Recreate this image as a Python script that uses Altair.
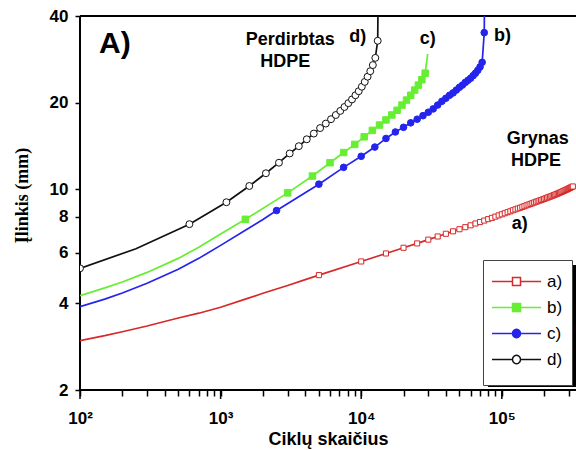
import altair as alt
import pandas as pd

# ---------------- data ----------------
series_names = ["a)", "b)", "c)", "d)"]
series_colors = ["#d62a2a", "#66ee33", "#2424ee", "#111111"]

# a) red, open squares (line-only points, then marker points)
a_line_cycles = [100, 150, 200, 300, 500, 700, 1000, 1500, 2000, 3000, 4000]
a_line_defl = [2.97, 3.09, 3.19, 3.34, 3.56, 3.70, 3.88, 4.14, 4.34, 4.62, 4.84]
a_mark_cycles = [5000, 10000, 15000, 20000, 25000, 30000, 35000, 40000, 45000, 50000,
                 55000, 60000, 65000, 70000, 75000, 80000, 85000, 90000, 95000, 100000,
                 105000, 110000, 115000, 120000, 125000, 130000, 135000, 140000, 145000, 150000,
                 155000, 160000, 165000, 170000, 175000, 180000, 185000, 190000, 195000, 200000,
                 205000, 210000, 215000, 220000, 225000, 230000, 235000, 240000, 245000, 250000,
                 255000, 260000, 265000, 270000, 275000, 280000, 285000, 290000, 295000, 300000,
                 305000, 310000, 315000, 320000]
a_mark_defl = [5.02, 5.60, 5.97, 6.25, 6.47, 6.67, 6.84, 6.99, 7.13, 7.25,
               7.37, 7.48, 7.59, 7.68, 7.77, 7.86, 7.94, 8.02, 8.10, 8.17,
               8.24, 8.31, 8.37, 8.44, 8.50, 8.56, 8.61, 8.67, 8.72, 8.78,
               8.83, 8.88, 8.93, 8.98, 9.03, 9.07, 9.12, 9.16, 9.20, 9.24,
               9.29, 9.33, 9.37, 9.41, 9.45, 9.49, 9.53, 9.57, 9.61, 9.65,
               9.69, 9.73, 9.77, 9.81, 9.85, 9.89, 9.93, 9.97, 10.01, 10.05,
               10.09, 10.13, 10.17, 10.21]

# b) green, filled squares
b_line_cycles = [100, 150, 200, 300, 500, 700, 1000, 29700]
b_line_defl = [4.26, 4.53, 4.75, 5.13, 5.74, 6.27, 6.98, 29.5]
b_mark_cycles = [1500, 3000, 4500, 6000, 7500, 9000, 10500, 12000, 13500, 15000,
                 16500, 18000, 19500, 21000, 22500, 24000, 25500, 27000, 28500]
b_mark_defl = [7.85, 9.7, 11.1, 12.35, 13.4, 14.3, 15.2, 16.0, 16.7, 17.4,
               18.1, 18.8, 19.6, 20.4, 21.2, 22.1, 23.0, 24.0, 25.3]

# c) blue, filled circles
c_line_cycles = [100, 150, 200, 300, 500, 700, 1000, 1500, 2000, 75600]
c_line_defl = [3.90, 4.14, 4.35, 4.70, 5.26, 5.74, 6.37, 7.19, 7.84, 60.0]
c_mark_cycles = [2500, 5000, 7500, 10000, 12500, 15000, 17500, 20000, 22500, 25000,
                 27500, 30000, 32500, 35000, 37500, 40000, 42500, 45000, 47500, 50000,
                 52500, 55000, 57500, 60000, 62500, 65000, 67500, 70000, 72500, 75000]
c_mark_defl = [8.42, 10.4, 11.9, 13.0, 14.0, 15.0, 15.8, 16.4, 17.0, 17.5,
               18.0, 18.5, 19.0, 19.6, 20.2, 20.7, 21.2, 21.6, 22.1, 22.6,
               23.0, 23.5, 23.9, 24.3, 24.8, 25.3, 25.9, 26.6, 27.6, 35.0]

# d) black, open circles
d_line_cycles = [250, 13250]
d_line_defl = [6.2, 60.0]
d_mark_cycles = [100, 600, 1100, 1600, 2100, 2600, 3100, 3600, 4100, 4600,
                 5100, 5600, 6100, 6600, 7100, 7600, 8100, 8600, 9100, 9600,
                 10100, 10600, 11100, 11600, 12100, 12600, 13100]
d_mark_defl = [5.3, 7.55, 9.0, 10.25, 11.35, 12.35, 13.3, 14.1, 14.9, 15.6,
               16.3, 16.9, 17.5, 18.1, 18.7, 19.3, 19.9, 20.5, 21.2, 21.9,
               22.7, 23.6, 24.6, 25.7, 27.0, 28.6, 32.8]

# annotations (positioned in data coordinates)
big_text = ["A)"]
big_cycles = [177]
big_defl = [32.0]
group_text = ["Perdirbtas", "HDPE", "Grynas", "HDPE"]
group_cycles = [3130, 2880, 180000, 175000]
group_defl = [33.1, 27.7, 14.9, 12.55]
curve_text = ["d)", "c)", "b)", "a)"]
curve_cycles = [9460, 29700, 101000, 134000]
curve_defl = [33.8, 33.3, 34.1, 7.56]

x_tick_values = [100, 200, 300, 400, 500, 600, 700, 800, 900,
                 1000, 2000, 3000, 4000, 5000, 6000, 7000, 8000, 9000,
                 10000, 20000, 30000, 40000, 50000, 60000, 70000, 80000, 90000,
                 100000, 200000, 300000]
x_major_ticks = [100, 1000, 10000, 100000]
y_tick_values = [2, 4, 6, 8, 10, 20, 40]
y_frame = [2, 40]      # bottom axis line and top frame line
x_frame = [100]        # left axis line

# ---------------- tables ----------------
rows = []
line_sets = {"a)": (a_line_cycles, a_line_defl, a_mark_cycles, a_mark_defl),
             "b)": (b_line_cycles, b_line_defl, b_mark_cycles, b_mark_defl),
             "c)": (c_line_cycles, c_line_defl, c_mark_cycles, c_mark_defl),
             "d)": (d_line_cycles, d_line_defl, d_mark_cycles, d_mark_defl)}
for s, (lc, lv, mc, mv) in line_sets.items():
    for c, v in zip(lc, lv):
        rows.append({"series": s, "cycles": c, "defl": v, "marker": False})
    for c, v in zip(mc, mv):
        rows.append({"series": s, "cycles": c, "defl": v, "marker": True})
df = pd.DataFrame(rows).sort_values(["series", "cycles"])

FONT = "Liberation Sans"
W, H = 496, 374
xscale = alt.Scale(type="log", domain=[100, 337000], nice=False)
yscale = alt.Scale(type="log", domain=[2, 40], nice=False)

x_axis = alt.Axis(
    values=x_tick_values,
    labelExpr="datum.value == 100 ? '10²' : datum.value == 1000 ? '10³' : datum.value == 10000 ? '10⁴' : datum.value == 100000 ? '10⁵' : ''",
    ticks=True, tickSize=6, tickWidth=1.5, tickColor="#000000", tickOpacity=1,
    labelPadding=14, labelFlush=False, labelOverlap=False,
    labelFont=FONT, labelFontSize=17, labelFontWeight="bold", labelColor="black",
    domain=False, grid=False,
    title="Ciklų skaičius", titleFont=FONT, titleFontSize=18, titleFontWeight="bold",
    titleColor="black", titleY=54, titleBaseline="alphabetic",
)
y_axis = alt.Axis(
    values=y_tick_values, format="d",
    ticks=True, tickSize=5, tickWidth=1.5, tickColor="#000000", tickOpacity=1,
    labelPadding=7, labelFlush=False, labelOverlap=False,
    labelFont=FONT, labelFontSize=17, labelFontWeight="bold", labelColor="black",
    domain=False, grid=False,
    title="Įlinkis (mm)", titleFont="Liberation Serif", titleFontSize=18,
    titleFontWeight="bold", titleColor="black", titleAngle=270,
    titleX=-58, titleY=179, titleAlign="center", titleBaseline="middle",
)

def X():
    return alt.X("cycles:Q", scale=xscale, axis=x_axis)

def Y():
    return alt.Y("defl:Q", scale=yscale, axis=y_axis)

marker_style = {
    "a)": dict(shape="square", size=26, fill="white", stroke=series_colors[0], strokeWidth=1),
    "b)": dict(shape="square", size=42, fill=series_colors[1], stroke=series_colors[1], strokeWidth=1),
    "c)": dict(shape="circle", size=44, fill=series_colors[2], stroke=series_colors[2], strokeWidth=1),
    "d)": dict(shape="circle", size=48, fill="white", stroke=series_colors[3], strokeWidth=1),
}

layers = []
# frame lines: bottom axis line, top frame line, left axis line (from the scales)
layers.append(alt.Chart(pd.DataFrame({"defl": y_frame})).mark_rule(
    color="black", strokeWidth=2).encode(y=Y()))
layers.append(alt.Chart(pd.DataFrame({"cycles": x_frame})).mark_rule(
    color="black", strokeWidth=2).encode(x=X()))
# longer major ticks on the cycles axis
maj_df = pd.DataFrame({"cycles": x_major_ticks})
layers.append(alt.Chart(maj_df).mark_rule(color="black", strokeWidth=1.5, clip=False).encode(
    x=X(), y=alt.value(H), y2=alt.value(H + 9)))
# legend shadow (decoration)
layers.append(alt.Chart(pd.DataFrame({"k": [0]})).mark_rect(color="black", clip=False).encode(
    x=alt.value(408), x2=alt.value(500), y=alt.value(249), y2=alt.value(371)))

for s, col in zip(series_names, series_colors):
    sub = df[df["series"] == s]
    layers.append(alt.Chart(sub).mark_line(color=col, strokeWidth=1.7, clip=True).encode(
        x=X(), y=Y()))
for s in series_names:
    sub = df[(df["series"] == s) & (df["marker"])]
    layers.append(alt.Chart(sub).mark_point(filled=True, opacity=1, clip=True,
                                            **marker_style[s]).encode(x=X(), y=Y()))

big_df = pd.DataFrame({"label": big_text, "cycles": big_cycles, "defl": big_defl})
grp_df = pd.DataFrame({"label": group_text + curve_text,
                       "cycles": group_cycles + curve_cycles,
                       "defl": group_defl + curve_defl})
layers.append(alt.Chart(big_df).mark_text(font=FONT, fontSize=30, fontWeight="bold",
                                          color="black", align="center", baseline="middle").encode(
    x=X(), y=Y(), text="label:N"))
layers.append(alt.Chart(grp_df).mark_text(font=FONT, fontSize=18, fontWeight="bold",
                                          color="black", align="center", baseline="middle").encode(
    x=X(), y=Y(), text="label:N"))

# legend-carrying layer (points placed outside the domain and clipped away)
sq_path = "M-1.087,0H0.696M1.391,0H3.174M0.696,-0.348H1.391V0.348H0.696Z"
ci_path = "M-1.087,0H0.696M1.391,0H3.174M0.696,0A0.348,0.348,0,1,0,1.391,0A0.348,0.348,0,1,0,0.696,0Z"
leg_df = pd.DataFrame({"series": series_names, "cycles": [50] * 4, "defl": [5] * 4})
legend = alt.Legend(title=" ", titleOrient="bottom", titleFontSize=2, titlePadding=6,
                    orient="none", legendX=403, legendY=244)
layers.append(alt.Chart(leg_df).mark_point(filled=True, opacity=1, clip=True, size=529,
                                           strokeWidth=1.5).encode(
    x=X(), y=Y(),
    stroke=alt.Stroke("series:N", scale=alt.Scale(domain=series_names, range=series_colors), legend=legend),
    fill=alt.Fill("series:N", scale=alt.Scale(domain=series_names,
                                              range=["white", series_colors[1], series_colors[2], "white"]),
                  legend=legend),
    shape=alt.Shape("series:N", scale=alt.Scale(domain=series_names,
                                                range=[sq_path, sq_path, ci_path, ci_path]),
                    legend=legend),
))

chart = alt.layer(*layers).properties(
    width=W, height=H,
    background="white",
    autosize=alt.AutoSizeParams(type="none"),
    padding={"left": 80, "top": 16, "right": 0, "bottom": 60},
).configure_view(stroke=None).configure_legend(
    padding=9, rowPadding=5, labelOffset=30, symbolSize=529, symbolStrokeWidth=1.5,
    labelFont=FONT, labelFontSize=17, labelFontWeight="normal", labelColor="black",
    strokeColor="#444444", fillColor="white",
)

chart.save("out.html", embed_options={"renderer": "svg", "actions": False})
